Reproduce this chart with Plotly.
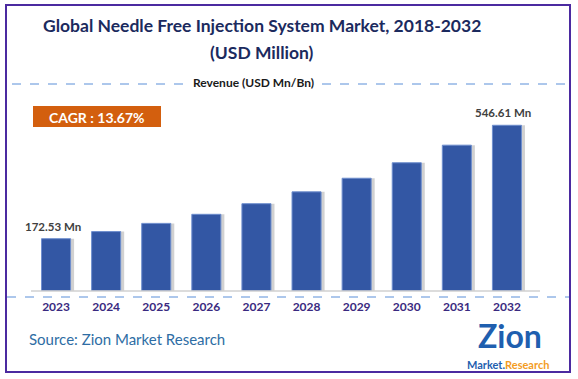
import plotly.graph_objects as go

years = ["2023", "2024", "2025", "2026", "2027", "2028", "2029", "2030", "2031", "2032"]
revenue = [172.53, 196.0, 223.0, 253.0, 288.0, 327.0, 372.0, 423.0, 481.0, 546.61]
label_idx = [0, 9]
labels = ["172.53 Mn", "546.61 Mn"]
title_lines = ["Global Needle Free Injection System Market, 2018-2032", "(USD Million)"]
subtitle = "Revenue (USD Mn/Bn)"
cagr = "CAGR : 13.67%"
source = "Source: Zion Market Research"

W, H = 578, 379
ML, MR, MT, MB = 31, 46, 100, 88
PW = W - ML - MR
PH = H - MT - MB

def px(x):
    return (x - ML) / PW

def py(y):
    return (H - MB - y) / PH

BAR = "#3357A4"
FONT = "Lato"

fig = go.Figure()
# shadow
fig.add_trace(go.Bar(x=years, y=revenue, width=0.58, offset=-0.22,
                     marker=dict(color="rgba(0,0,0,0.18)", line=dict(width=0)),
                     hoverinfo="skip", showlegend=False))
fig.add_trace(go.Bar(x=years, y=revenue, width=0.58, offset=-0.29,
                     marker=dict(color=BAR, line=dict(color="#6F8FCF", width=1)),
                     showlegend=False))

def pann(text, x, y, size, color, xanchor="center", family=FONT):
    return dict(text=text, x=px(x), y=py(y), xref="paper", yref="paper",
                xanchor=xanchor, yanchor="middle", showarrow=False,
                font=dict(family=family, size=size, color=color))

ann = []
ann.append(pann("<b>" + title_lines[0] + "</b>", 262, 25, 17.5, "#1B2A5E"))
ann.append(pann("<b>" + title_lines[1] + "</b>", 262, 53, 17.5, "#1B2A5E"))
ann.append(pann("<b>" + subtitle + "</b>", 253, 82, 12, "#1a1a1a"))
ann.append(pann("<b>" + cagr + "</b>", 97, 117, 14, "white"))
for i, t in zip(label_idx, labels):
    ann.append(dict(text="<b>" + t + "</b>", x=i - 0.07, y=revenue[i], xref="x", yref="y",
                    xanchor="center", yanchor="bottom", yshift=4, showarrow=False,
                    font=dict(family=FONT, size=11.5, color="#404040")))
ann.append(pann(source, 27, 339, 15, "#2E6DA4", xanchor="left"))
ann.append(pann("<b>Zion</b>", 510, 335, 32, "#1F5FAF"))
ann.append(pann("<b><span style='color:#1F5FAF'>Market.</span><span style='color:#F39C1F'>Research</span></b>",
                508, 364, 11, "#1F5FAF"))

shapes = []
shapes.append(dict(type="rect", xref="paper", yref="paper", x0=px(6), x1=px(570), y0=py(5), y1=py(372),
                   line=dict(color="#4B2AA0", width=2)))
shapes.append(dict(type="rect", xref="paper", yref="paper", x0=px(33), x1=px(161), y0=py(106), y1=py(127),
                   fillcolor="#D35F0E", line=dict(width=0), layer="below"))
shapes.append(dict(type="line", xref="paper", yref="paper", x0=px(12), x1=px(185), y0=py(84), y1=py(84),
                   line=dict(color="#5B8FD8", width=1, dash="dash")))
shapes.append(dict(type="line", xref="paper", yref="paper", x0=px(322), x1=px(568), y0=py(84), y1=py(84),
                   line=dict(color="#5B8FD8", width=1, dash="dash")))
shapes.append(dict(type="line", xref="paper", yref="paper", x0=px(7), x1=px(569), y0=py(297), y1=py(297),
                   line=dict(color="#5B8FD8", width=1, dash="dash")))
shapes.append(dict(type="line", xref="paper", yref="paper", x0=px(31), x1=px(540), y0=0, y1=0,
                   line=dict(color="#D0D0D0", width=1.5)))

fig.update_layout(
    width=W, height=H, autosize=False,
    margin=dict(l=ML, r=MR, t=MT, b=MB),
    paper_bgcolor="white", plot_bgcolor="white",
    barmode="overlay",
    annotations=ann, shapes=shapes,
    xaxis=dict(type="category", range=[-0.5, 9.5], showgrid=False, zeroline=False, showline=False,
               ticks="outside", ticklen=5, tickcolor="rgba(0,0,0,0)",
               tickfont=dict(family=FONT, size=12, color="#3A2A80"), tickprefix="<b>", ticksuffix="</b>"),
    yaxis=dict(range=[0, 630], visible=False),
    showlegend=False,
)

fig.write_html("out.html", config={"displayModeBar": False},
               post_script="document.body.style.margin='0';document.body.style.overflow='hidden';")
